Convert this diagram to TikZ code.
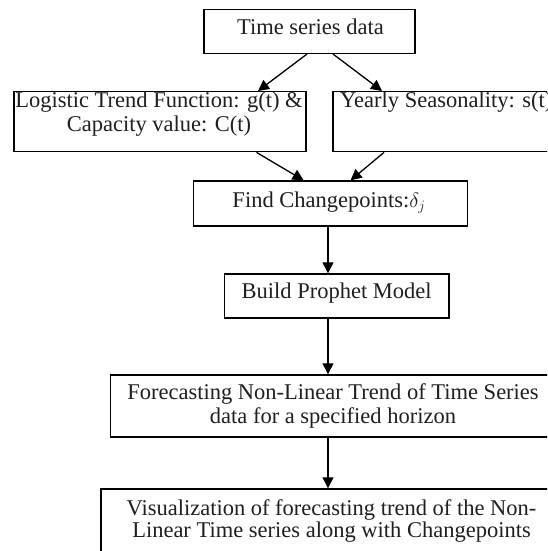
\documentclass[tikz,border=0pt]{standalone}
\usepackage{fontspec}
\setmainfont{Liberation Serif}
\usetikzlibrary{arrows.meta}
\begin{document}
\begin{tikzpicture}[x=1pt,y=-1pt,
  boxnode/.style={draw=black,line width=1.4pt,inner sep=0pt,rectangle},
  txt/.style={inner sep=0pt,text=black!88,font=\fontsize{22.5}{23.5}\selectfont,align=center},
  arr/.style={draw=black,line width=1.3pt,-{Triangle[length=11pt,width=11pt]}}]
\useasboundingbox (0,0) rectangle (547,551);
\clip (0,0) rectangle (547,551);
\fill[white] (0,0) rectangle (547,551);
% boxes
\node[boxnode,minimum width=211pt,minimum height=44pt] (ts) at (309.5,31.3) {};
\node[boxnode,minimum width=292pt,minimum height=60pt] (lt) at (160,121.7) {};
\node[boxnode,minimum width=300pt,minimum height=60pt] (ys) at (483,121.7) {};
\node[boxnode,minimum width=274pt,minimum height=45pt] (fc) at (330.6,203.5) {};
\node[boxnode,minimum width=224.7pt,minimum height=44pt] (bp) at (336.7,296) {};
\node[boxnode,minimum width=480pt,minimum height=62pt] (fo) at (350.3,406) {};
\node[boxnode,minimum width=490pt,minimum height=100pt] (vi) at (346,539) {};
% texts
\node[txt,anchor=base] (tst) at (310.5,35) {Time series data};
\node[txt,anchor=base] (ltt) at (159,131) {Logistic Trend Function: g(t) \&\\Capacity value: C(t)};
\node[txt,anchor=base west] (yst) at (340,107) {Yearly Seasonality: s(t)};
\node[txt,anchor=base] (fct) at (329,207) {Find Changepoints:$\delta_j$};
\node[txt,anchor=base] (bpt) at (336.7,298) {Build Prophet Model};
\node[txt,anchor=base] (fot) at (333,423) {Forecasting Non-Linear Trend of Time Series\\data for a specified horizon};
\node[txt,anchor=base,font=\fontsize{22.5}{21.5}\selectfont] (vit) at (331.5,537) {Visualization of forecasting trend of the Non-\\Linear Time series along with Changepoints};
% connectors
\draw[arr] ([xshift=-2.5pt]ts.south) -- ([xshift=98pt]lt.north);
\draw[arr] ([xshift=23.5pt]ts.south) -- ([xshift=-101pt]ys.north);
\draw[arr] ([xshift=96.5pt]lt.south) -- ([xshift=-27pt]fc.north);
\draw[arr] ([xshift=-99pt]ys.south) -- ([xshift=20pt]fc.north);
\draw[arr] ([xshift=-8.7pt]bp.north |- fc.south) coordinate (fcs) -- (fcs |- bp.north);
\draw[arr] ([xshift=-8.7pt]bp.south) coordinate (bps) -- (bps |- fo.north);
\draw[arr] (bps |- fo.south) coordinate (fos) -- (fos |- vi.north);
\end{tikzpicture}
\end{document}
